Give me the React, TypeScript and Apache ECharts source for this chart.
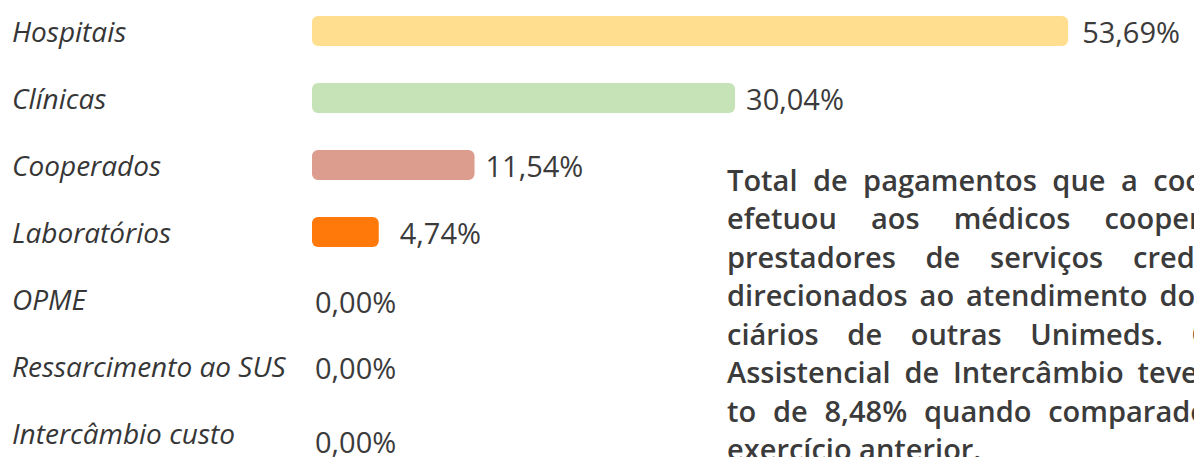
import React, { useEffect, useRef } from "react";
import * as echarts from "echarts";

const categories = [
  "Hospitais",
  "Clínicas",
  "Cooperados",
  "Laboratórios",
  "OPME",
  "Ressarcimento ao SUS",
  "Intercâmbio custo",
];
const values = [53.69, 30.04, 11.54, 4.74, 0, 0, 0];
const barColors = ["#FFDF8F", "#C6E3B7", "#DC9C8E", "#FF780A", "#cccccc", "#cccccc", "#cccccc"];
const labelDistances = [14, 11, 11, 21, 3, 3, 3];
const labelOffsetsY = [0, 0, 0, 0, 2, 1, 8];

const paragraphLines = [
  "Total de pagamentos que a cooperativa",
  "efetuou aos médicos cooperados e",
  "prestadores de serviços credenciados",
  "direcionados ao atendimento dos benefi-",
  "ciários de outras Unimeds. O custo",
  "Assistencial de Intercâmbio teve aumen-",
  "to de 8,48% quando comparado com o",
  "exercício anterior.",
];

const fmt = (v: number) => v.toFixed(2).replace(".", ",") + "%";

export default function App() {
  const ref = useRef<HTMLDivElement>(null);
  useEffect(() => {
    if (!ref.current) return;
    const chart = echarts.init(ref.current, null, { renderer: "svg" });

    const paraFont = '600 29px "Open Sans"';
    const canvas = document.createElement("canvas");
    const ctx = canvas.getContext("2d")!;
    ctx.font = paraFont;
    const paraLeft = 727;
    const paraWidth = 592;
    const paraTop = 179;
    const paraLH = 38.5;
    const spaceW = ctx.measureText(" ").width;
    const graphics: any[] = [];
    paragraphLines.forEach((line, li) => {
      const words = line.split(" ");
      const widths = words.map((w) => ctx.measureText(w).width);
      const total = widths.reduce((a, b) => a + b, 0);
      const last = li === paragraphLines.length - 1;
      let gap = last || words.length < 2 ? spaceW : (paraWidth - total) / (words.length - 1);
      if (gap < spaceW * 0.8) gap = spaceW * 0.8;
      let x = paraLeft;
      words.forEach((w, wi) => {
        graphics.push({
          type: "text",
          x,
          y: paraTop + li * paraLH,
          silent: true,
          style: {
            text: w,
            font: paraFont,
            fill: "#3b3b3b",
            textVerticalAlign: "middle",
          },
        });
        x += widths[wi] + gap;
      });
    });

    chart.setOption({
      animation: false,
      grid: { left: 312, right: 37, top: 31, bottom: 24, containLabel: false },
      xAxis: {
        type: "value",
        min: 0,
        max: 60,
        show: false,
      },
      yAxis: {
        type: "category",
        inverse: true,
        boundaryGap: false,
        data: categories,
        axisLine: { show: false },
        axisTick: { show: false },
        splitLine: { show: false },
        axisLabel: {
          align: "left",
          margin: 300,
          fontFamily: "Open Sans",
          fontStyle: "italic",
          fontWeight: 500,
          fontSize: 28,
          color: "#363636",
        },
      },
      series: [
        {
          type: "bar",
          barWidth: 30,
          data: values.map((v, i) => ({
            value: v,
            itemStyle: { color: barColors[i], borderRadius: 6 },
            label: {
              show: true,
              position: "right",
              distance: labelDistances[i],
              offset: [0, labelOffsetsY[i]],
              formatter: () => fmt(v),
              fontFamily: "Open Sans",
              fontWeight: 500,
              fontSize: 29,
              color: "#3b3b3b",
            },
          })),
        },
      ],
      graphic: graphics,
    });
    return () => chart.dispose();
  }, []);
  return (
    <div
      ref={ref}
      style={{ position: "absolute", left: 0, top: 0, width: 1194, height: 457, background: "#fff" }}
    />
  );
}
